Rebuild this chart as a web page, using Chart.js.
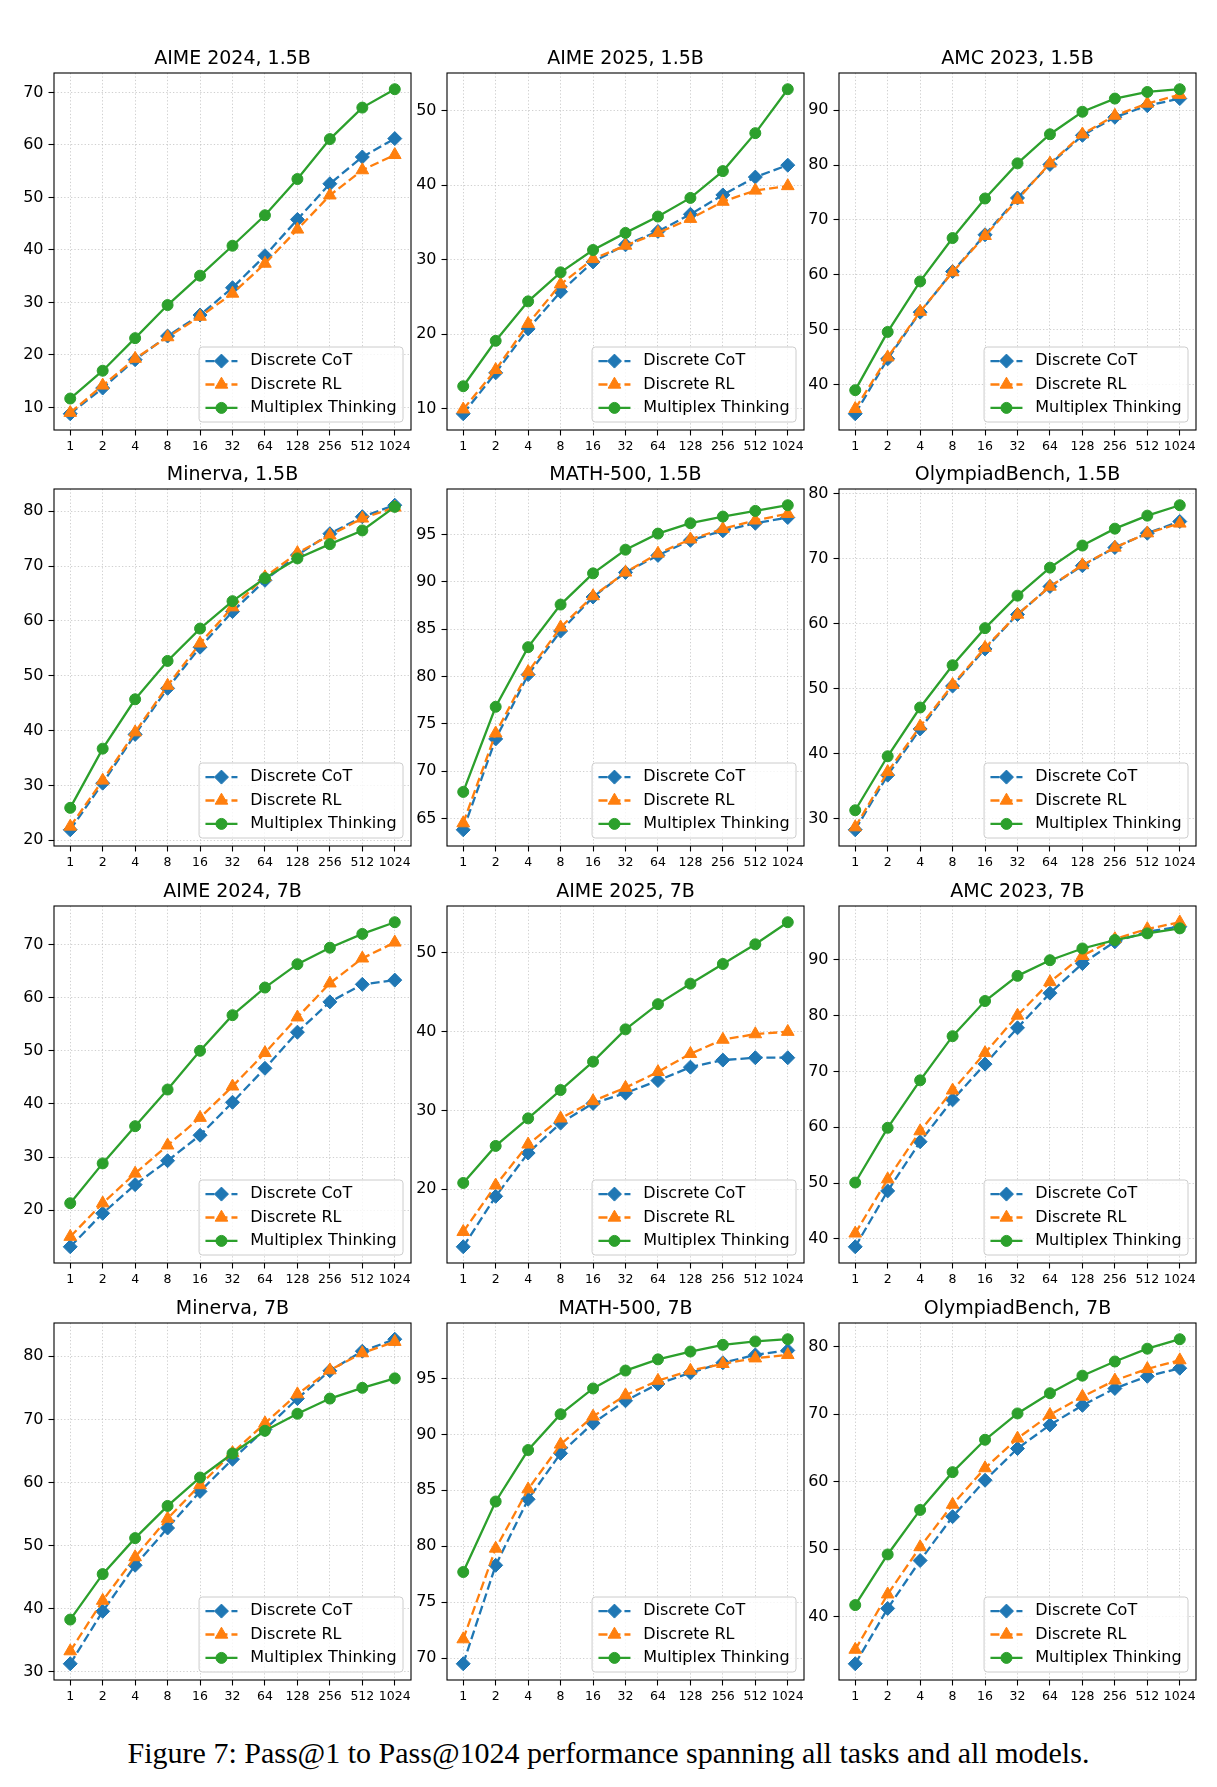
<!DOCTYPE html>
<html><head><meta charset="utf-8">
<script src="https://cdn.jsdelivr.net/npm/chart.js@4.4.1/dist/chart.umd.min.js"></script>
<style>
html,body{margin:0;padding:0;background:#fff;}
body{width:1217px;height:1787px;position:relative;overflow:hidden;}
canvas{position:absolute;}
#caption{position:absolute;left:0;top:1738px;width:1217px;text-align:center;font-family:"Liberation Serif","Times New Roman",serif;font-size:30px;line-height:30px;color:#000;white-space:nowrap;}
</style></head><body>
<div id="caption">Figure 7: Pass@1 to Pass@1024 performance spanning all tasks and all models.</div>
<script>
// ---------------- DATA ----------------
const xLabels = ['1','2','4','8','16','32','64','128','256','512','1024'];
const seriesNames = ['Discrete CoT','Discrete RL','Multiplex Thinking'];

// AIME 2024, 1.5B
const aime24_1p5b_cot = [8.8, 13.7, 19.1, 23.6, 27.6, 32.8, 38.9, 45.8, 52.6, 57.7, 61.2];
const aime24_1p5b_rl  = [9.0, 14.2, 19.3, 23.4, 27.3, 31.7, 37.4, 43.9, 50.4, 55.2, 58.1];
const aime24_1p5b_mt  = [11.7, 17.0, 23.2, 29.5, 35.1, 40.8, 46.6, 53.5, 61.1, 67.1, 70.6];
const aime24_1p5b_yticks = [10, 20, 30, 40, 50, 60, 70];

// AIME 2025, 1.5B
const aime25_1p5b_cot = [9.3, 14.8, 20.7, 25.7, 29.7, 32.0, 33.8, 36.1, 38.7, 41.1, 42.7];
const aime25_1p5b_rl  = [9.9, 15.2, 21.4, 26.7, 30.1, 31.9, 33.6, 35.5, 37.8, 39.3, 39.9];
const aime25_1p5b_mt  = [13.0, 19.1, 24.4, 28.3, 31.3, 33.6, 35.8, 38.3, 41.9, 47.0, 52.9];
const aime25_1p5b_yticks = [10, 20, 30, 40, 50];

// AMC 2023, 1.5B
const amc23_1p5b_cot = [34.7, 44.7, 53.2, 60.6, 67.3, 74.0, 80.1, 85.4, 88.7, 90.8, 92.1];
const amc23_1p5b_rl  = [35.6, 45.0, 53.3, 60.5, 67.1, 73.7, 80.3, 85.6, 89.0, 91.2, 92.8];
const amc23_1p5b_mt  = [39.0, 49.6, 58.8, 66.7, 73.9, 80.3, 85.6, 89.7, 92.1, 93.3, 93.8];
const amc23_1p5b_yticks = [40, 50, 60, 70, 80, 90];

// Minerva, 1.5B
const minerva_1p5b_cot = [21.9, 30.4, 39.3, 47.7, 55.2, 61.7, 67.4, 72.0, 75.9, 79.0, 81.1];
const minerva_1p5b_rl  = [22.5, 30.9, 39.7, 48.2, 55.9, 62.5, 68.0, 72.4, 75.6, 78.7, 80.7];
const minerva_1p5b_mt  = [25.9, 36.7, 45.7, 52.7, 58.6, 63.6, 67.8, 71.4, 74.0, 76.5, 80.8];
const minerva_1p5b_yticks = [20, 30, 40, 50, 60, 70, 80];

// MATH-500, 1.5B
const math500_1p5b_cot = [63.8, 73.4, 80.2, 84.8, 88.4, 91.0, 92.8, 94.4, 95.4, 96.2, 96.8];
const math500_1p5b_rl  = [64.5, 74.0, 80.5, 85.2, 88.5, 91.0, 93.0, 94.5, 95.6, 96.5, 97.2];
const math500_1p5b_mt  = [67.8, 76.8, 83.1, 87.6, 90.9, 93.4, 95.1, 96.2, 96.9, 97.5, 98.1];
const math500_1p5b_yticks = [65, 70, 75, 80, 85, 90, 95];

// OlympiadBench, 1.5B
const olympiad_1p5b_cot = [28.3, 36.7, 43.8, 50.4, 56.1, 61.4, 65.7, 68.9, 71.7, 73.9, 75.7];
const olympiad_1p5b_rl  = [28.7, 37.2, 44.2, 50.6, 56.3, 61.4, 65.7, 69.0, 71.7, 73.9, 75.4];
const olympiad_1p5b_mt  = [31.3, 39.6, 47.1, 53.6, 59.3, 64.3, 68.6, 72.0, 74.6, 76.6, 78.2];
const olympiad_1p5b_yticks = [30, 40, 50, 60, 70, 80];

// AIME 2024, 7B
const aime24_7b_cot = [13.1, 19.4, 24.8, 29.3, 34.1, 40.3, 46.7, 53.5, 59.2, 62.5, 63.3];
const aime24_7b_rl  = [15.0, 21.3, 26.9, 32.2, 37.4, 43.3, 49.6, 56.3, 62.7, 67.4, 70.4];
const aime24_7b_mt  = [21.3, 28.8, 35.8, 42.7, 50.0, 56.7, 61.9, 66.3, 69.4, 72.0, 74.2];
const aime24_7b_yticks = [20, 30, 40, 50, 60, 70];

// AIME 2025, 7B
const aime25_7b_cot = [12.7, 19.1, 24.6, 28.4, 30.9, 32.2, 33.8, 35.5, 36.4, 36.7, 36.7];
const aime25_7b_rl  = [14.6, 20.5, 25.7, 29.0, 31.2, 32.9, 34.9, 37.2, 39.0, 39.7, 40.0];
const aime25_7b_mt  = [20.8, 25.5, 29.0, 32.6, 36.2, 40.3, 43.5, 46.1, 48.6, 51.1, 53.9];
const aime25_7b_yticks = [20, 30, 40, 50];

// AMC 2023, 7B
const amc23_7b_cot = [38.6, 48.6, 57.4, 64.9, 71.3, 77.8, 84.0, 89.3, 93.2, 95.0, 95.9];
const amc23_7b_rl  = [41.0, 50.7, 59.3, 66.6, 73.3, 80.0, 86.0, 90.7, 93.7, 95.5, 96.7];
const amc23_7b_mt  = [50.1, 59.9, 68.4, 76.3, 82.6, 87.1, 89.9, 92.0, 93.5, 94.7, 95.6];
const amc23_7b_yticks = [40, 50, 60, 70, 80, 90];

// Minerva, 7B
const minerva_7b_cot = [31.3, 39.6, 46.9, 52.8, 58.6, 63.7, 68.4, 73.3, 77.7, 80.8, 82.7];
const minerva_7b_rl  = [33.3, 41.3, 48.2, 54.3, 59.6, 64.7, 69.4, 74.0, 77.8, 80.5, 82.3];
const minerva_7b_mt  = [38.3, 45.5, 51.2, 56.3, 60.8, 64.6, 68.2, 70.9, 73.3, 75.0, 76.5];
const minerva_7b_yticks = [30, 40, 50, 60, 70, 80];

// MATH-500, 7B
const math500_7b_cot = [69.5, 78.3, 84.2, 88.3, 91.0, 93.0, 94.5, 95.5, 96.4, 97.1, 97.5];
const math500_7b_rl  = [71.7, 79.8, 85.1, 89.1, 91.6, 93.5, 94.8, 95.7, 96.3, 96.8, 97.1];
const math500_7b_mt  = [77.7, 84.0, 88.6, 91.8, 94.1, 95.7, 96.7, 97.4, 98.0, 98.3, 98.5];
const math500_7b_yticks = [70, 75, 80, 85, 90, 95];

// OlympiadBench, 7B
const olympiad_7b_cot = [33.0, 41.2, 48.3, 54.8, 60.2, 64.9, 68.4, 71.3, 73.8, 75.6, 76.8];
const olympiad_7b_rl  = [35.1, 43.3, 50.3, 56.6, 62.0, 66.4, 69.9, 72.6, 75.0, 76.7, 78.0];
const olympiad_7b_mt  = [41.7, 49.2, 55.8, 61.4, 66.2, 70.1, 73.1, 75.7, 77.8, 79.7, 81.1];
const olympiad_7b_yticks = [40, 50, 60, 70, 80];

const panels = [
  {title:'AIME 2024, 1.5B', cot:aime24_1p5b_cot, rl:aime24_1p5b_rl, mt:aime24_1p5b_mt, yTicks:aime24_1p5b_yticks},
  {title:'AIME 2025, 1.5B', cot:aime25_1p5b_cot, rl:aime25_1p5b_rl, mt:aime25_1p5b_mt, yTicks:aime25_1p5b_yticks},
  {title:'AMC 2023, 1.5B', cot:amc23_1p5b_cot, rl:amc23_1p5b_rl, mt:amc23_1p5b_mt, yTicks:amc23_1p5b_yticks},
  {title:'Minerva, 1.5B', cot:minerva_1p5b_cot, rl:minerva_1p5b_rl, mt:minerva_1p5b_mt, yTicks:minerva_1p5b_yticks},
  {title:'MATH-500, 1.5B', cot:math500_1p5b_cot, rl:math500_1p5b_rl, mt:math500_1p5b_mt, yTicks:math500_1p5b_yticks},
  {title:'OlympiadBench, 1.5B', cot:olympiad_1p5b_cot, rl:olympiad_1p5b_rl, mt:olympiad_1p5b_mt, yTicks:olympiad_1p5b_yticks},
  {title:'AIME 2024, 7B', cot:aime24_7b_cot, rl:aime24_7b_rl, mt:aime24_7b_mt, yTicks:aime24_7b_yticks},
  {title:'AIME 2025, 7B', cot:aime25_7b_cot, rl:aime25_7b_rl, mt:aime25_7b_mt, yTicks:aime25_7b_yticks},
  {title:'AMC 2023, 7B', cot:amc23_7b_cot, rl:amc23_7b_rl, mt:amc23_7b_mt, yTicks:amc23_7b_yticks},
  {title:'Minerva, 7B', cot:minerva_7b_cot, rl:minerva_7b_rl, mt:minerva_7b_mt, yTicks:minerva_7b_yticks},
  {title:'MATH-500, 7B', cot:math500_7b_cot, rl:math500_7b_rl, mt:math500_7b_mt, yTicks:math500_7b_yticks},
  {title:'OlympiadBench, 7B', cot:olympiad_7b_cot, rl:olympiad_7b_rl, mt:olympiad_7b_mt, yTicks:olympiad_7b_yticks}
];

// ---------------- STYLE / LAYOUT ----------------
const BLUE = '#1f77b4', ORANGE = '#ff7f0e', GREEN = '#2ca02c';
const GRID = 'rgba(176,176,176,0.75)';
const FONT = "'DejaVu Sans', sans-serif";
const colLeft = [54, 447, 839];
const rowTop = [73, 489, 906, 1323];
const PLOT = 357;
const PADL = 60, PADR = 24, PADT = 45, PADB = 32;
const TITLE_GAP = 14;

Chart.defaults.font.family = FONT;

function shapePath(c, style, x, y, r) {
  c.beginPath();
  if (style === 'rectRot') {
    c.moveTo(x - r, y); c.lineTo(x, y - r); c.lineTo(x + r, y); c.lineTo(x, y + r); c.closePath();
  } else if (style === 'triangle') {
    const h = r * 0.866;
    c.moveTo(x, y - r); c.lineTo(x + h, y + r / 2); c.lineTo(x - h, y + r / 2); c.closePath();
  } else {
    c.arc(x, y, r, 0, Math.PI * 2);
  }
}

const framePlugin = {
  id: 'frame',
  afterDraw(chart) {
    const a = chart.chartArea, c = chart.ctx;
    c.save();
    c.strokeStyle = '#000'; c.lineWidth = 1.1;
    c.strokeRect(a.left, a.top, a.right - a.left, a.bottom - a.top);
    c.restore();
  }
};

const legendPlugin = {
  id: 'mplLegend',
  afterDatasetsDraw(chart) {
    const c = chart.ctx, a = chart.chartArea, ds = chart.data.datasets;
    const fs = 16;
    c.save();
    c.font = fs + "px " + FONT;
    let tw = 0;
    ds.forEach(d => { tw = Math.max(tw, c.measureText(d.label).width); });
    const bp = 0.4 * fs, hl = 2 * fs, htp = 0.8 * fs, ls = 0.5 * fs, bap = 0.5 * fs, rowH = 15.4;
    const w = 2 * bp + hl + htp + tw;
    const h = 2 * bp + ds.length * rowH + (ds.length - 1) * ls;
    const x0 = a.right - bap - w, y0 = a.bottom - bap - h;
    const rr = 3.2;
    c.beginPath();
    c.moveTo(x0 + rr, y0);
    c.lineTo(x0 + w - rr, y0); c.arcTo(x0 + w, y0, x0 + w, y0 + rr, rr);
    c.lineTo(x0 + w, y0 + h - rr); c.arcTo(x0 + w, y0 + h, x0 + w - rr, y0 + h, rr);
    c.lineTo(x0 + rr, y0 + h); c.arcTo(x0, y0 + h, x0, y0 + h - rr, rr);
    c.lineTo(x0, y0 + rr); c.arcTo(x0, y0, x0 + rr, y0, rr);
    c.closePath();
    c.fillStyle = 'rgba(255,255,255,0.8)'; c.fill();
    c.strokeStyle = '#cccccc'; c.lineWidth = 1; c.stroke();
    ds.forEach((d, i) => {
      const cy = y0 + bp + rowH / 2 + i * (rowH + ls);
      const hx0 = x0 + bp, hx1 = hx0 + hl;
      c.strokeStyle = d.borderColor; c.lineWidth = d.borderWidth;
      c.setLineDash(d.borderDash || []);
      c.beginPath(); c.moveTo(hx0, cy); c.lineTo(hx1, cy); c.stroke();
      c.setLineDash([]);
      shapePath(c, d.pointStyle, (hx0 + hx1) / 2, cy, d.pointRadius);
      c.fillStyle = d.backgroundColor; c.fill();
      c.lineWidth = d.pointBorderWidth; c.stroke();
      c.fillStyle = '#000'; c.textBaseline = 'middle'; c.textAlign = 'left';
      c.fillText(d.label, hx1 + htp, cy);
    });
    c.restore();
  }
};

function makeChart(p, idx) {
  const col = idx % 3, row = Math.floor(idx / 3);
  const L = colLeft[col], T = rowTop[row];
  const cv = document.createElement('canvas');
  const cw = PADL + PLOT + PADR, ch = PADT + PLOT + PADB;
  cv.width = cw; cv.height = ch;
  cv.style.width = cw + 'px'; cv.style.height = ch + 'px';
  cv.style.left = (L - PADL) + 'px'; cv.style.top = (T - PADT) + 'px';
  document.body.appendChild(cv);
  const all = p.cot.concat(p.rl, p.mt);
  const lo = Math.min(...all), hi = Math.max(...all), m = (hi - lo) * 0.05;
  const gridCommon = {color: GRID, lineWidth: 0.8, tickColor: '#000', tickLength: 5.5, tickWidth: 1.1, tickBorderDash: []};
  new Chart(cv, {
    type: 'line',
    data: {
      labels: xLabels,
      datasets: [
        {label: seriesNames[0], data: p.cot, borderColor: BLUE, backgroundColor: BLUE, borderDash: [9, 4], borderWidth: 2.3,
         pointStyle: 'rectRot', pointRadius: 7, pointBorderWidth: 1, pointBackgroundColor: BLUE, pointBorderColor: BLUE, order: 2},
        {label: seriesNames[1], data: p.rl, borderColor: ORANGE, backgroundColor: ORANGE, borderDash: [9, 4], borderWidth: 2.3,
         pointStyle: 'triangle', pointRadius: 7.3, pointBorderWidth: 1, pointBackgroundColor: ORANGE, pointBorderColor: ORANGE, order: 1},
        {label: seriesNames[2], data: p.mt, borderColor: GREEN, backgroundColor: GREEN, borderWidth: 2.3,
         pointStyle: 'circle', pointRadius: 5.5, pointBorderWidth: 1, pointBackgroundColor: GREEN, pointBorderColor: GREEN, order: 0}
      ]
    },
    options: {
      responsive: false, animation: false, devicePixelRatio: 1,
      layout: {padding: {left: 0, right: PADR, top: 0, bottom: 0}},
      elements: {line: {tension: 0}},
      plugins: {
        legend: {display: false},
        tooltip: {enabled: false},
        title: {display: true, text: p.title, fullSize: false, color: '#000',
                font: {family: FONT, size: 19, weight: 'normal', lineHeight: 1.2},
                padding: {top: PADT - TITLE_GAP - 11.4, bottom: TITLE_GAP - 11.4}}
      },
      scales: {
        x: {
          type: 'category', offset: true,
          grid: Object.assign({offset: false}, gridCommon),
          border: {display: false, dash: [1.3, 2.1]},
          ticks: {color: '#000', font: {family: FONT, size: 12.5}, padding: 4, maxRotation: 0, minRotation: 0, autoSkip: false},
          afterFit: (s) => { s.height = PADB; }
        },
        y: {
          type: 'linear', min: lo - m, max: hi + m,
          grid: gridCommon,
          border: {display: false, dash: [1.3, 2.1]},
          ticks: {color: '#000', font: {family: FONT, size: 16}, padding: 5},
          afterBuildTicks: (s) => { s.ticks = p.yTicks.map(v => ({value: v})); },
          afterFit: (s) => { s.width = PADL; }
        }
      }
    },
    plugins: [framePlugin, legendPlugin]
  });
}

panels.forEach(makeChart);
</script>
</body></html>
